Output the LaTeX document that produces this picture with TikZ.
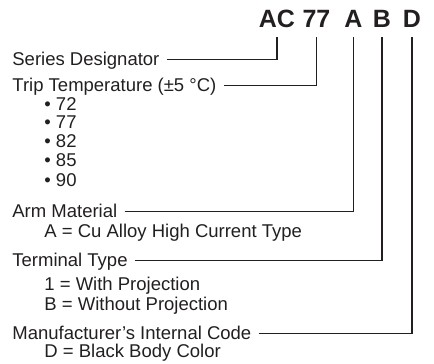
\documentclass[tikz,border=0pt]{standalone}
\usepackage{fontspec}
\setmainfont{Liberation Sans}
\usepackage{xcolor}
\definecolor{ink}{RGB}{35,31,32}

\begin{document}
\begin{tikzpicture}[
    x=0.5pt,y=-0.5pt,
    partno/.style={font=\fontsize{12.5}{12.5}\selectfont\bfseries,text=ink,
      inner sep=0pt,text depth=0pt,anchor=base},
    field/.style={font=\fontsize{9.25}{11}\selectfont,text=ink,
      inner sep=0pt,text height=6.5pt,text depth=1pt,anchor=base west},
    sublbl/.style={field},
    leader/.style={draw=ink,line width=0.55pt,shorten <=3.5pt,shorten >=5pt}
  ]
  \useasboundingbox (0,0) rectangle (434,364);

  % Part number (top row)
  \node[partno] (hser) at (277,27) {AC};
  \node[partno] (htemp) at (316.5,27) {77};
  \node[partno] (harm) at (353.5,27) {A};
  \node[partno] (hterm) at (382,27) {B};
  \node[partno] (hcode) at (412,27) {D};

  % Field names (left column)
  \node[field] (ser) at (12,65) {Series Designator};
  \node[field] (temp) at (12,91) {Trip Temperature (±5 °C)};
  \node[sublbl] (t72) at (44,110) {• 72};
  \node[sublbl] (t77) at (44,128.5) {• 77};
  \node[sublbl] (t82) at (44,147) {• 82};
  \node[sublbl] (t85) at (44,166) {• 85};
  \node[sublbl] (t90) at (44,186) {• 90};
  \node[field] (arm) at (12,217) {Arm Material};
  \node[sublbl] (arma) at (44,237.5) {A = Cu Alloy High Current Type};
  \node[field] (term) at (12,266) {Terminal Type};
  \node[sublbl] (term1) at (44,290) {1 = With Projection};
  \node[sublbl] (termb) at (44,310) {B = Without Projection};
  \node[field] (mfr) at (12,339) {Manufacturer’s Internal Code};
  \node[sublbl] (mfrd) at (44,357.5) {D = Black Body Color};

  % Leaders from each field up to its code letter
  \draw[leader] (ser.east) -| (hser.south);
  \draw[leader] (temp.east) -| (htemp.south);
  \draw[leader] (arm.east) -| (harm.south);
  \draw[leader] (term.east) -| (hterm.south);
  \draw[leader] (mfr.east) -| (hcode.south);
\end{tikzpicture}
\end{document}
